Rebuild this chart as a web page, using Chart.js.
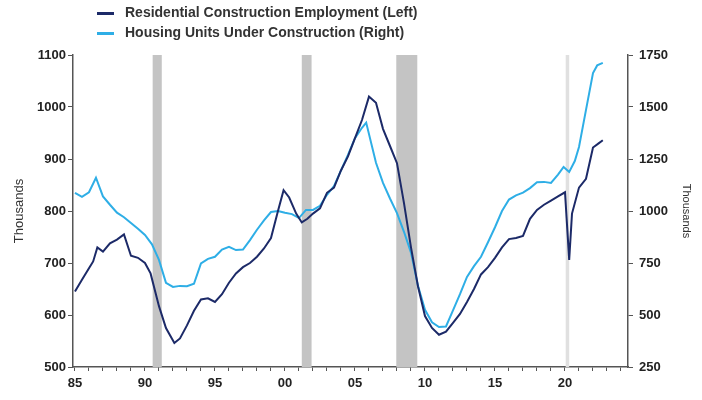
<!DOCTYPE html>
<html>
<head>
<meta charset="utf-8">
<script src="https://cdn.jsdelivr.net/npm/chart.js@4/dist/chart.umd.min.js"></script>
<style>
	html, body { margin: 0; padding: 0; background: #fff; }
	#wrap { position: relative; width: 702px; height: 400px; }
	#legend { position: absolute; left: 97px; top: 2px; font: bold 14px "Liberation Sans", Arial, sans-serif; color: #333; }
	#legend div { height: 20px; line-height: 20px; white-space: nowrap; }
	#legend span { display: inline-block; width: 17px; height: 3px; vertical-align: middle; margin-right: 11px; }
</style>
</head>
<body>
<div id="wrap">
	<canvas id="chart" width="702" height="400"></canvas>
	<div id="legend"></div>
</div>
<script>
// Residential construction employment, thousands (left axis)
const empYears = [1985.0, 1985.5, 1986.0, 1986.3, 1986.6, 1987.0, 1987.5, 1988.0, 1988.5, 1989.0, 1989.5,
	1990.0, 1990.4, 1991.0, 1991.5, 1992.1, 1992.5, 1993.0, 1993.5, 1994.0, 1994.5,
	1995.0, 1995.5, 1996.0, 1996.5, 1997.0, 1997.5, 1998.0, 1998.5, 1999.0, 1999.5,
	1999.9, 2000.3, 2000.8, 2001.2, 2001.6, 2002.0, 2002.5, 2003.0, 2003.5, 2004.0,
	2004.5, 2005.0, 2005.5, 2006.0, 2006.5, 2007.0, 2007.5, 2008.0, 2008.5, 2009.0,
	2009.5, 2010.0, 2010.5, 2011.0, 2011.5, 2012.0, 2012.5, 2013.0, 2013.5, 2014.0,
	2014.5, 2015.0, 2015.5, 2016.0, 2016.5, 2017.0, 2017.5, 2018.0, 2018.5, 2019.0,
	2019.5, 2020.0, 2020.3, 2020.5, 2021.0, 2021.5, 2022.0, 2022.4, 2022.7]
const empValues = [645, 668, 690, 703, 730, 722, 738, 745, 755, 714, 710,
	700, 680, 617, 575, 546, 555, 580, 608, 630, 632,
	625, 640, 662, 680, 692, 700, 712, 728, 748, 800,
	840, 826, 795, 778, 785, 795, 805, 835, 845, 878,
	905, 940, 975, 1020, 1008, 958, 925, 892, 815, 730,
	655, 598, 575, 562, 568, 585, 602, 625, 650, 678,
	692, 710, 730, 746, 748, 752, 785, 802, 812, 820,
	828, 836, 706, 795, 845, 862, 922, 930, 936]

// Housing units under construction, thousands (right axis)
const unitYears = [1985.0, 1985.5, 1986.0, 1986.5, 1987.0, 1987.5, 1988.0, 1988.5, 1989.0, 1989.5,
	1990.0, 1990.5, 1991.0, 1991.5, 1992.0, 1992.5, 1993.0, 1993.5, 1994.0, 1994.5,
	1995.0, 1995.5, 1996.0, 1996.5, 1997.0, 1997.5, 1998.0, 1998.5, 1999.0, 1999.5,
	2000.0, 2000.5, 2001.0, 2001.5, 2002.0, 2002.5, 2003.0, 2003.5, 2004.0, 2004.5,
	2005.0, 2005.5, 2005.8, 2006.5, 2007.0, 2007.5, 2008.0, 2008.5, 2009.0, 2009.5,
	2010.0, 2010.5, 2011.0, 2011.5, 2012.0, 2012.5, 2013.0, 2013.5, 2014.0, 2014.5,
	2015.0, 2015.5, 2016.0, 2016.5, 2017.0, 2017.5, 2018.0, 2018.5, 2019.0, 2019.5,
	2019.9, 2020.3, 2020.7, 2021.0, 2021.5, 2022.0, 2022.3, 2022.7]
const unitValues = [1087, 1068, 1090, 1160, 1070, 1030, 992, 970, 942, 915,
	885, 840, 765, 655, 635, 640, 638, 650, 748, 770,
	780, 815, 828, 812, 815, 860, 910, 955, 995, 1000,
	992, 985, 966, 1005, 1005, 1025, 1078, 1120, 1195, 1270,
	1350, 1400, 1425, 1232, 1135, 1060, 990, 900, 800, 640,
	525, 465, 442, 445, 522, 600, 683, 735, 780, 850,
	922, 1000, 1055, 1075, 1088, 1110, 1138, 1140, 1135, 1175,
	1212, 1188, 1240, 1308, 1486, 1663, 1700, 1712]

// x axis: a tick every year, labelled every fifth
const tickYears = Array.from({ length: 40 }, (_, i) => 1985 + i)

// recession shading, start/end as fractional years
const recessions = [[1990.55, 1991.2], [2001.2, 2001.9], [2007.95, 2009.45]]
const covidMark = [2020.05, 2020.3]

const seriesNames = ['Residential Construction Employment (Left)', 'Housing Units Under Construction (Right)']
const seriesColors = ['#1c2a68', '#2eaee6']

const font = '"Liberation Sans", Arial, sans-serif'
const axisColor = '#555'
const labelColor = '#222'

document.getElementById('legend').innerHTML = seriesNames
	.map((name, i) => `<div><span style="background:${seriesColors[i]}"></span>${name}</div>`)
	.join('')

const toPoints = (xs, ys) => xs.map((x, i) => ({ x, y: ys[i] }))

const shadingPlugin = {
	id: 'shading',
	beforeDatasetsDraw(chart) {
		const { ctx, chartArea, scales } = chart
		const band = (range, color) => {
			let x0 = scales.x.getPixelForValue(range[0])
			let x1 = scales.x.getPixelForValue(range[1])
			ctx.fillStyle = color
			ctx.fillRect(x0, chartArea.top, x1 - x0, chartArea.bottom - chartArea.top)
		}
		ctx.save()
		recessions.forEach(r => band(r, '#c4c4c4'))
		band(covidMark, '#e0e0e0')
		ctx.restore()
	}
}

const yAxis = (position, min, max, step, tickPad, titleSize, titlePad, width) => ({
	position,
	min,
	max,
	grid: { drawOnChartArea: false, tickLength: 5, color: axisColor },
	border: { color: axisColor, width: 1.5 },
	ticks: {
		stepSize: step,
		color: labelColor,
		padding: tickPad,
		font: { family: font, size: 13, weight: 'bold' },
		callback: v => String(v)
	},
	title: { display: true, text: 'Thousands', color: '#333', padding: { top: titlePad, bottom: 0 }, font: { family: font, size: titleSize } },
	afterFit: scale => { scale.width = width }
})

new Chart(document.getElementById('chart'), {
	type: 'line',
	data: {
		datasets: [{
			label: seriesNames[0],
			data: toPoints(empYears, empValues),
			borderColor: seriesColors[0],
			yAxisID: 'y'
		}, {
			label: seriesNames[1],
			data: toPoints(unitYears, unitValues),
			borderColor: seriesColors[1],
			yAxisID: 'y1'
		}]
	},
	options: {
		responsive: false,
		animation: false,
		layout: { padding: { top: 55, left: 0, right: 0, bottom: 0 } },
		elements: {
			point: { radius: 0 },
			line: { borderWidth: 2, tension: 0 }
		},
		plugins: {
			legend: { display: false },
			tooltip: { enabled: false }
		},
		scales: {
			x: {
				type: 'linear',
				min: 1984.86,
				max: 2024.5,
				grid: { drawOnChartArea: false, tickLength: 4, color: axisColor },
				border: { color: axisColor, width: 1.5 },
				afterBuildTicks: scale => { scale.ticks = tickYears.map(value => ({ value })) },
				ticks: {
					autoSkip: false,
					maxRotation: 0,
					color: labelColor,
					padding: 5,
					font: { family: font, size: 13, weight: 'bold' },
					callback: v => (v % 5 === 0 ? String(v % 100).padStart(2, '0') : '')
				},
				afterFit: scale => { scale.height = 33 }
			},
			y: yAxis('left', 500, 1100, 100, 2, 13, 12, 73),
			y1: yAxis('right', 250, 1750, 250, 6, 11, 9, 74)
		}
	},
	plugins: [shadingPlugin]
})
</script>
</body>
</html>
